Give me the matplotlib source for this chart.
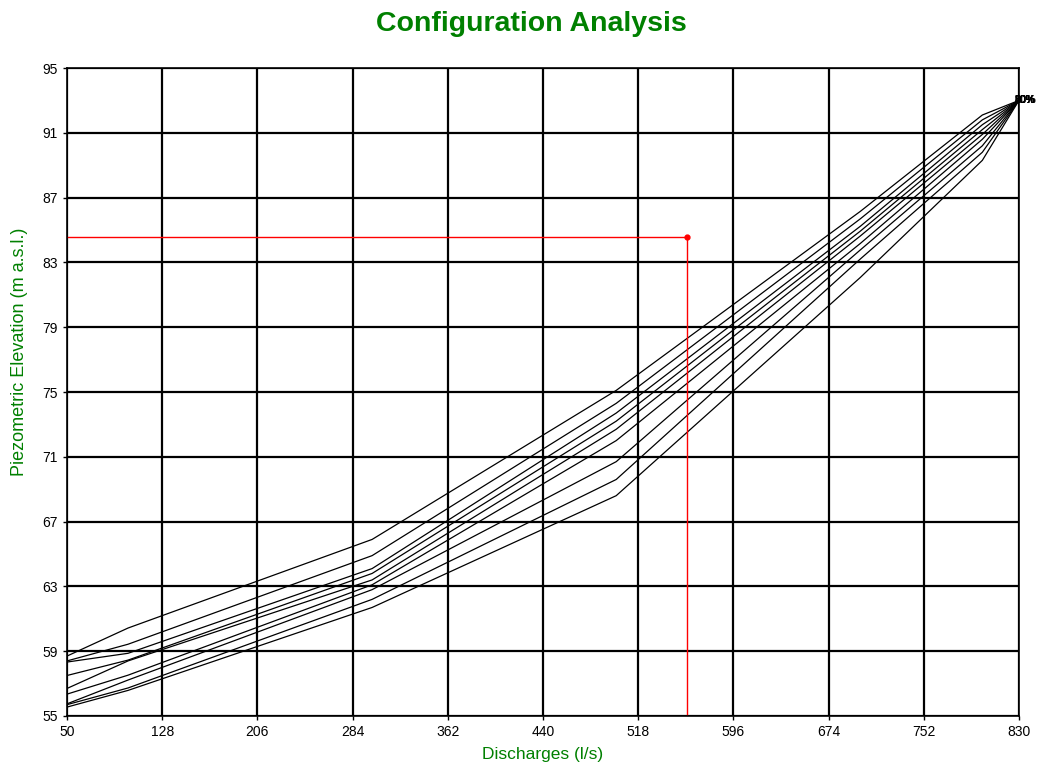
import matplotlib
matplotlib.use("Agg")
import matplotlib.pyplot as plt
import numpy as np

plt.rcParams['font.family'] = ['Liberation Sans', 'DejaVu Sans']

# discharge knots (l/s)
discharges = [50, 100, 300, 500, 700, 800, 830]

# piezometric elevation for each curve (m a.s.l.)
curves = {
    '10%': [58.7, 60.43, 65.9, 75.1, 86.15, 92.1, 93.0],
    '20%': [58.4, 59.43, 64.9, 74.3, 85.69, 91.8, 93.0],
    '30%': [58.33, 58.87, 64.1, 73.7, 85.23, 91.5, 93.0],
    '40%': [57.5, 58.45, 63.8, 73.2, 84.93, 91.2, 93.0],
    '50%': [56.7, 58.4, 63.4, 72.7, 84.63, 90.9, 93.0],
    '60%': [56.35, 57.52, 63.1, 72.0, 84.17, 90.6, 93.0],
    '70%': [55.75, 57.22, 62.8, 70.7, 83.77, 90.2, 93.0],
    '80%': [55.7, 56.73, 62.2, 69.6, 83.21, 89.8, 93.0],
    '90%': [55.55, 56.58, 61.7, 68.6, 82.07, 89.3, 93.0],
}

# operating point
op_q = 558
op_h = 84.6

xticks = np.arange(50, 831, 78)
yticks = np.arange(55, 96, 4)

fig = plt.figure(figsize=(10.39, 7.67), dpi=100)
ax = fig.add_axes([0.0645, 0.0665, 0.9162, 0.8448])

for name, vals in curves.items():
    ax.plot(discharges, vals, color='black', linewidth=0.9)
    ax.annotate(name, (discharges[-1], vals[-1]), xytext=(-3, 0),
                textcoords='offset points', fontsize=7.5, va='center', ha='left',
                annotation_clip=False)

ax.plot([50, op_q], [op_h, op_h], color='red', linewidth=1)
ax.plot([op_q, op_q], [55, op_h], color='red', linewidth=1)
ax.plot(op_q, op_h, 'o', color='red', markersize=3.5)

ax.set_xlim(50, 830)
ax.set_ylim(55, 95)
ax.set_xticks(xticks)
ax.set_yticks(yticks)
ax.grid(True, color='black', linewidth=1.6)
ax.set_axisbelow(True)
ax.tick_params(labelsize=10, length=3, width=1)
for s in ax.spines.values():
    s.set_linewidth(1.2)

ax.set_xlabel('Discharges (l/s)', color='green', fontsize=12.5, labelpad=6)
ax.set_ylabel('Piezometric Elevation (m a.s.l.)', color='green', fontsize=13)
ax.yaxis.set_label_coords(-0.041, 0.562)
fig.suptitle('Configuration Analysis', color='green', fontsize=20.5, fontweight='bold',
             x=0.511, y=0.986)

fig.savefig('out.png', dpi=100)
